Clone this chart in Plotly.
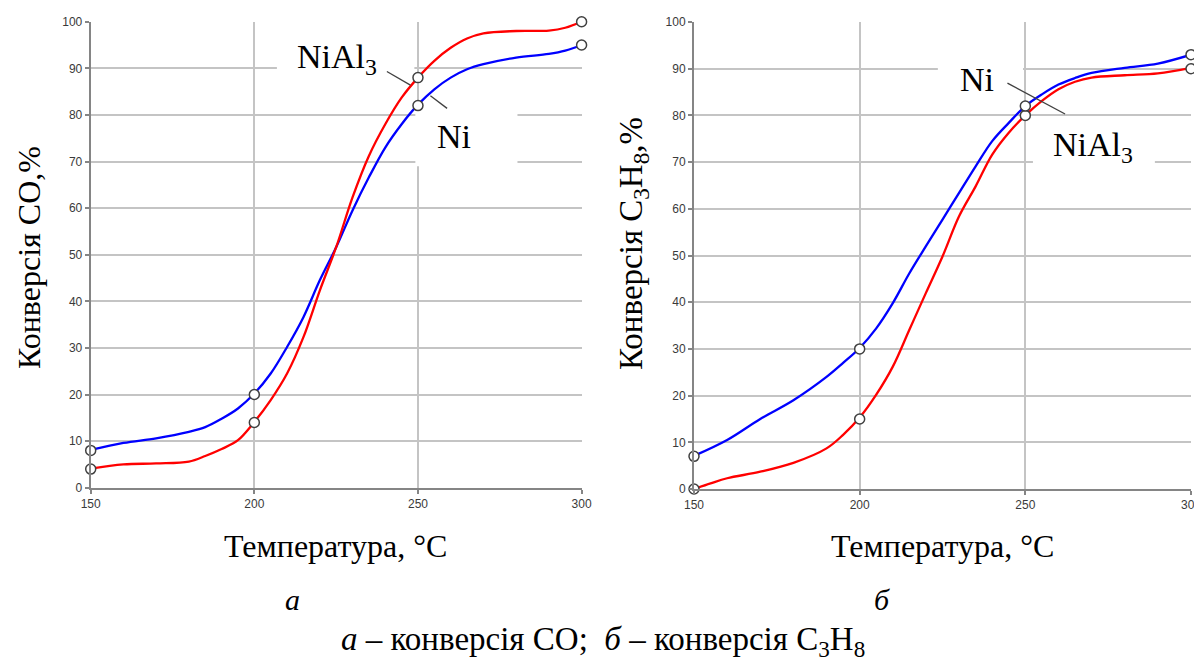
import plotly.graph_objects as go

# ---------------- data ----------------
# (a) CO conversion
T_a = [150, 160, 170, 180, 185, 190, 195, 200, 205, 210, 215, 220, 225, 230,
       235, 240, 245, 250, 255, 260, 265, 270, 280, 290, 295, 300]
co_nial3 = [4.1, 5.0, 5.2, 5.6, 6.8, 8.3, 10.2, 14.1, 18.8, 24.5, 32.3, 42.3, 51.6, 62.3,
            71.2, 78.0, 83.7, 88.0, 91.6, 94.4, 96.4, 97.5, 98.0, 98.1, 98.7, 100.0]
co_ni = [8.1, 9.6, 10.6, 12.0, 13.0, 14.8, 17.0, 20.2, 24.5, 30.2, 36.6, 44.5, 51.6, 59.5,
         66.6, 73.0, 78.0, 82.2, 85.5, 88.0, 89.8, 90.9, 92.3, 93.1, 93.8, 95.0]

# (b) C3H8 conversion
T_b_ni = [150, 160, 170, 180, 190, 195, 200, 205, 210, 215, 220, 225, 230,
          235, 240, 245, 250, 255, 260, 265, 270, 280, 290, 300]
c3h8_ni = [7.1, 10.5, 15.0, 19.0, 24.0, 27.0, 30.2, 34.4, 39.8, 46.2, 52.0, 57.7, 63.4,
           69.1, 74.5, 78.4, 82.0, 84.5, 86.6, 88.0, 89.1, 90.2, 91.1, 93.0]
T_b_nial3 = [150, 155, 160, 170, 180, 190, 195, 200, 205, 210, 215, 220, 225, 230,
             235, 240, 245, 250, 255, 260, 265, 270, 280, 290, 300]
c3h8_nial3 = [0.0, 1.2, 2.3, 3.7, 5.6, 8.7, 11.6, 15.3, 20.2, 26.2, 34.1, 42.0, 49.8, 58.4,
              64.8, 71.6, 76.3, 80.0, 83.1, 85.6, 87.2, 88.1, 88.6, 89.0, 90.2]

# measured points (markers)
T_pts = [150, 200, 250, 300]
co_nial3_pts = [4, 14, 88, 100]
co_ni_pts = [8, 20, 82, 95]
c3h8_ni_pts = [7, 30, 82, 93]
c3h8_nial3_pts = [0, 15, 80, 90]

x_ticks = [150, 200, 250, 300]
y_ticks = list(range(0, 101, 10))

RED = "#ff0000"
BLUE = "#0000ff"
GRID = "#c4c4c4"
AXIS = "#858585"
SERIF = "Liberation Serif, Times New Roman, serif"

# page offset (default body margin of the html page) and figure size
OFF = 8
FW, FH = 1202 - OFF, 664 - OFF


def dom_x(a, b):
    return [(a - OFF) / FW, (b - OFF) / FW]


def dom_y(top, bottom):
    return [1 - (bottom - OFF) / FH, 1 - (top - OFF) / FH]


def px(xp, yp):
    return (xp - OFF) / FW, 1 - (yp - OFF) / FH


fig = go.Figure()


def add_curve(x, y, color, xa, ya):
    fig.add_trace(go.Scatter(x=x, y=y, mode="lines", xaxis=xa, yaxis=ya,
                             line=dict(color=color, width=2.3, shape="spline", smoothing=1.0),
                             showlegend=False, hoverinfo="skip", cliponaxis=False))


def add_pts(x, y, xa, ya):
    fig.add_trace(go.Scatter(x=x, y=y, mode="markers", xaxis=xa, yaxis=ya,
                             marker=dict(symbol="circle", size=10, color="white",
                                         line=dict(color="#404040", width=1.5)),
                             showlegend=False, hoverinfo="skip", cliponaxis=False))


add_curve(T_a, co_ni, BLUE, "x", "y")
add_curve(T_a, co_nial3, RED, "x", "y")
add_pts(T_pts, co_ni_pts, "x", "y")
add_pts(T_pts, co_nial3_pts, "x", "y")

add_curve(T_b_nial3, c3h8_nial3, RED, "x2", "y2")
add_curve(T_b_ni, c3h8_ni, BLUE, "x2", "y2")
add_pts(T_pts, c3h8_nial3_pts, "x2", "y2")
add_pts(T_pts, c3h8_ni_pts, "x2", "y2")

axis_common = dict(showgrid=True, gridcolor=GRID, gridwidth=1.5, showline=True,
                   linecolor=AXIS, linewidth=2, ticks="outside", ticklen=4,
                   tickcolor=AXIS, tickwidth=1.5, zeroline=False, automargin=False,
                   tickfont=dict(family="Liberation Sans, Arial", size=12, color="#3a3a3a"))

fig.update_layout(
    template="none",
    width=FW, height=FH,
    margin=dict(l=0, r=0, t=0, b=0, pad=0, autoexpand=False),
    paper_bgcolor="white", plot_bgcolor="white",
    xaxis=dict(domain=dom_x(90.7, 581.6), range=[150, 300], tickvals=x_ticks, anchor="y",
               **axis_common),
    yaxis=dict(domain=dom_y(21.7, 487.7), range=[0, 100], tickvals=y_ticks, anchor="x",
               **axis_common),
    xaxis2=dict(domain=dom_x(694, 1191), range=[150, 300], tickvals=x_ticks, anchor="y2",
                **axis_common),
    yaxis2=dict(domain=dom_y(22, 489), range=[0, 100], tickvals=y_ticks, anchor="x2",
                **axis_common),
)

# white label boxes (hide gridlines behind labels, but stay under curves)
boxes = [
    ("x", "y", 206.9, 248.9, 84.0, 95.6),
    ("x", "y", 249.2, 280.4, 69.0, 81.1),
    ("x2", "y2", 223.6, 249.3, 83.7, 93.8),
    ("x2", "y2", 252.3, 289.1, 66.6, 78.6),
]
for xr, yr, x0, x1, y0, y1 in boxes:
    fig.add_shape(type="rect", xref=xr, yref=yr, x0=x0, x1=x1, y0=y0, y1=y1,
                  fillcolor="white", line=dict(width=0), layer="between")

# leader lines
leaders = [
    ("x", "y", 240.5, 89.3, 247.7, 86.4),
    ("x", "y", 253.8, 84.1, 258.9, 81.4),
    ("x2", "y2", 244.6, 86.9, 262.0, 80.3),
]
for xr, yr, x0, y0, x1, y1 in leaders:
    fig.add_shape(type="line", xref=xr, yref=yr, x0=x0, y0=y0, x1=x1, y1=y1,
                  line=dict(color="#404040", width=1.3), layer="above")


def note(x, y, text, size, xref="paper", yref="paper", angle=0):
    fig.add_annotation(x=x, y=y, xref=xref, yref=yref, text=text, textangle=angle,
                       xanchor="center", yanchor="middle", showarrow=False,
                       font=dict(family=SERIF, size=size, color="black"))


note(225.2, 91.9, "NiAl<sub>3</sub>", 34, "x", "y")
note(260.9, 75.3, "Ni", 34, "x", "y")
note(235.3, 87.6, "Ni", 34, "x2", "y2")
note(270.5, 73.3, "NiAl<sub>3</sub>", 34, "x2", "y2")

note(*px(29, 258), "Конверсія CO,%", 32, angle=-90)
note(*px(633, 244), "Конверсія C<sub>3</sub>H<sub>8</sub>,%", 33, angle=-90)
note(*px(335, 546), "Температура, °С", 32)
note(*px(942, 546), "Температура, °С", 32)
note(*px(292, 599), "<i>а</i>", 30)
note(*px(882, 599), "<i>б</i>", 30)
note(*px(603, 641),
     "<i>а</i> – конверсія CO;\u00a0 <i>б</i> – конверсія C<sub>3</sub>H<sub>8</sub>", 33)

fig.write_html("out.html")
